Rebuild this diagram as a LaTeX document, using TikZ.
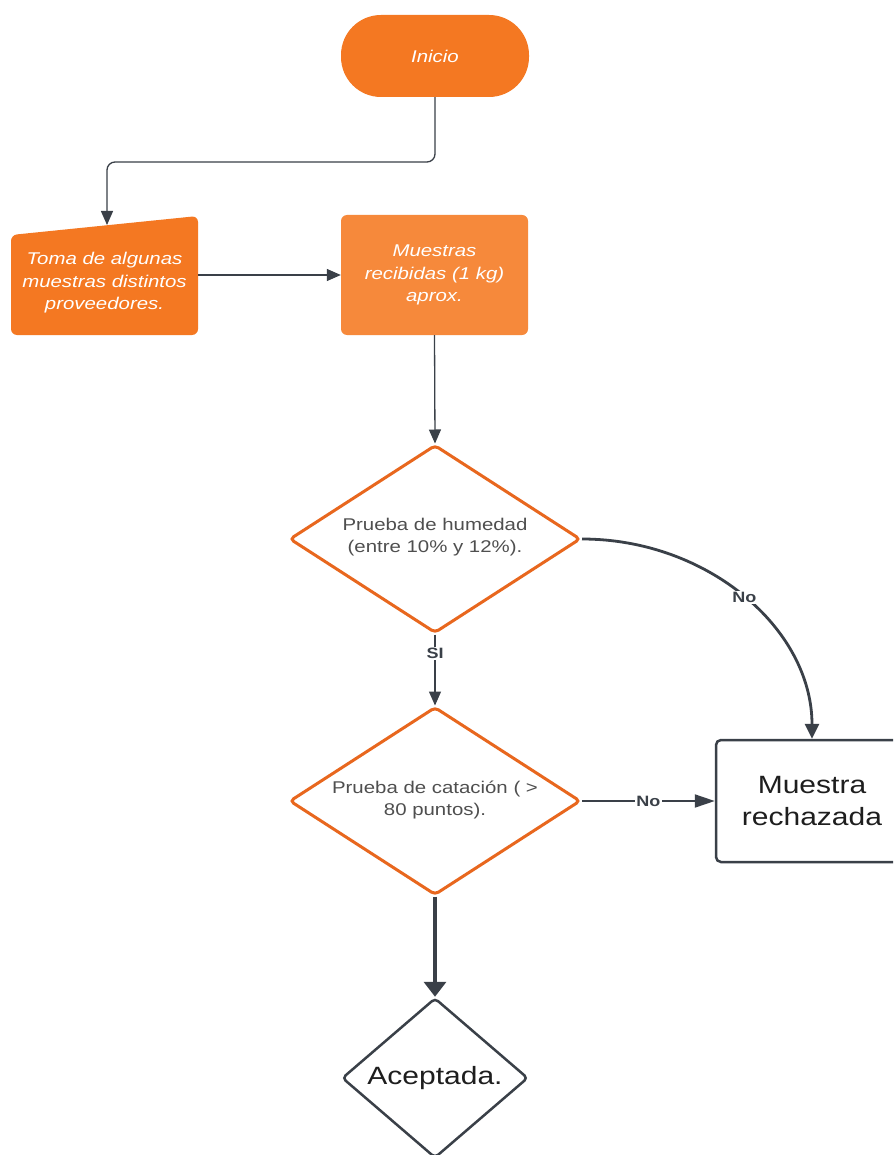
\documentclass[tikz,border=0pt]{standalone}
\usepackage{fontspec}
\setmainfont{Liberation Sans}[FakeStretch=1.2]
\usetikzlibrary{arrows.meta,shapes.geometric}
\definecolor{orA}{HTML}{F47822}
\definecolor{orB}{HTML}{F6893B}
\definecolor{dOr}{HTML}{E8671E}
\definecolor{lineC}{HTML}{3A4048}
\definecolor{txtG}{HTML}{4F4F4F}
\definecolor{txtD}{HTML}{1E1E1E}
\begin{document}
\begin{tikzpicture}[x=1pt,y=-1pt,
  otext/.style={text=white, font=\fontsize{17}{22.5}\selectfont\itshape, align=center, inner sep=0pt},
  dia/.style={diamond, draw=dOr, line width=3pt, fill=white, rounded corners=4pt, minimum width=291pt, minimum height=188pt, inner sep=0pt},
  dtext/.style={text=txtG, font=\fontsize{17}{22.5}\selectfont, align=center, inner sep=0pt},
  lab/.style={fill=white, text=lineC, font=\fontsize{15}{18}\selectfont\bfseries, inner sep=1.5pt},
  thin/.style={draw=lineC, line width=1.3pt, -{Triangle[length=14pt,width=12pt]}},
  mid/.style={draw=lineC, line width=2pt, -{Triangle[length=20pt,width=13pt]}},
  thick/.style={draw=lineC, line width=2.8pt, -{Triangle[length=15pt,width=14pt]}},
  thicker/.style={draw=lineC, line width=3.6pt, -{Triangle[length=15pt,width=22pt]}}
]
\useasboundingbox (0,0) rectangle (893,1155);
\clip (0,0) rectangle (893,1155);
\fill[white] (0,0) rectangle (893,1155);

% Inicio
\node[fill=orA, rounded corners=40pt, minimum width=188pt, minimum height=82pt, otext] (inicio) at (435,56) {Inicio};

% Toma box (slanted top)
\fill[orA, rounded corners=6pt] (11,235) -- (198,216) -- (198,335) -- (11,335) -- cycle;
\node[otext, minimum width=187pt] (toma) at (104.5,283) {Toma de algunas\\muestras distintos\\proveedores.};
\coordinate (tomaTop) at (107,225);

% Muestras recibidas
\node[fill=orB, rounded corners=6pt, minimum width=187pt, minimum height=120pt, otext] (recib) at (434.5,275) {Muestras\\recibidas (1 kg)\\aprox.};

% Diamonds
\node[dia] (d1) at (435,539) {};
\node[dtext] (d1t) at (435,537) {Prueba de humedad\\(entre 10\% y 12\%).};
\node[dia] (d2) at (435,801) {};
\node[dtext] (d2t) at (435,800) {Prueba de catación ( >\\80 puntos).};

% Muestra rechazada
\node[draw=lineC, line width=2.5pt, rounded corners=5pt, fill=white, minimum width=192pt, minimum height=122pt, text=txtD, font=\fontsize{25}{32}\selectfont, align=center] (rech) at (812,801) {Muestra\\rechazada};

% Aceptada
\node[diamond, draw=lineC, line width=2.5pt, rounded corners=4pt, fill=white, minimum width=186pt, minimum height=160pt, inner sep=0pt] (acep) at (435,1078) {};
\node[text=txtD, font=\fontsize{25}{30}\selectfont, inner sep=0pt] (acept) at (435,1078) {Aceptada.};

% Connectors
\draw[thin, rounded corners=8pt] (inicio.south) -- (inicio.south |- 0,162) -| (tomaTop);
\draw[thin] (recib.west -| 198,0) -- (recib.west);
\draw[thin] (recib.south) -- (d1.north);
\draw[thin] (d1.south) -- node[lab, pos=0.27] {SI} (d2.north);
\draw[thick] (d1.east) .. controls (708,539) and (812,629) .. node[lab, pos=0.5] {No} (rech.north);
\draw[mid] (d2.east) -- node[lab, pos=0.5] {No} (rech.west);
\draw[thicker] (d2.south) -- (acep.north);
\end{tikzpicture}
\end{document}
